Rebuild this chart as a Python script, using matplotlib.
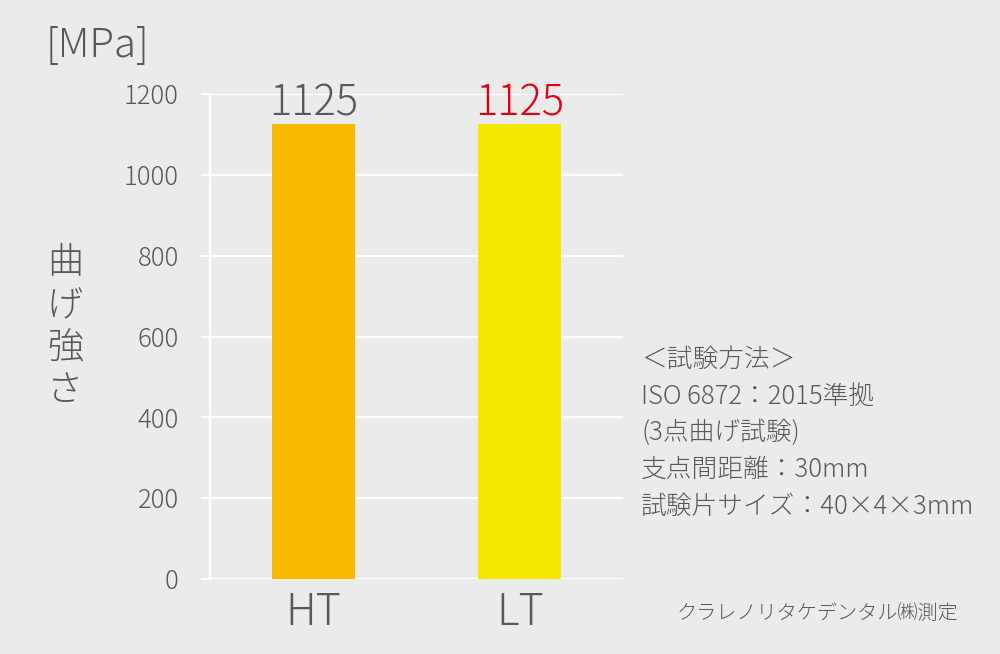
# 曲げ強さの棒グラフ (HT / LT)
import matplotlib.pyplot as plt
import numpy as np

plt.rcParams['font.family'] = ['Noto Sans CJK JP', 'DejaVu Sans']
plt.rcParams['font.weight'] = 'light'

categorias = ['HT', 'LT']
valores = [1125, 1125]
cores = ['#f8b900', '#f5e800']
cor_rotulo = ['#595959', '#e60012']
yticks = [0, 200, 400, 600, 800, 1000, 1200]
metodo = ['＜試験方法＞', 'ISO 6872：2015準拠', '(3点曲げ試験)',
          '支点間距離：30mm', '試験片サイズ：40×4×3mm']

cinza = '#595959'
fundo = '#ebebeb'

fig = plt.figure(figsize=(10, 6.54), dpi=100, facecolor=fundo)
ax = fig.add_axes([0.21, 75/654, 0.413, 485/654], facecolor=fundo)

x = np.arange(len(categorias))
ax.bar(x, valores, width=0.4, color=cores, zorder=3)
for i, v in enumerate(valores):
    ax.text(x[i], v - 2, str(v), ha='center', va='bottom', fontsize=30,
            color=cor_rotulo[i], zorder=4)

ax.set_xlim(-0.5, 1.5)
ax.set_ylim(0, 1200)
ax.set_yticks(yticks)
ax.set_yticklabels([str(t) for t in yticks], fontsize=18.5, color=cinza)
ax.set_xticks(x)
ax.set_xticklabels(categorias, fontsize=31, color=cinza)
ax.tick_params(axis='y', length=6.5, width=1.5, color='white', pad=16)
ax.tick_params(axis='x', length=0, pad=8)
ax.grid(axis='y', color='white', linewidth=1.6, zorder=1)
ax.set_axisbelow(True)
for s in ['top', 'right', 'bottom']:
    ax.spines[s].set_visible(False)
ax.spines['left'].set_color('white')
ax.spines['left'].set_linewidth(1.6)
ax.spines['left'].set_zorder(2)

fig.text(0.046, 1 - 46/654, '[MPa]', fontsize=29, color=cinza, va='center', ha='left')
fig.text(0.065, 1 - 327/654, '曲\nげ\n強\nさ', fontsize=26, color=cinza,
         va='center', ha='center', linespacing=1.14)

fig.text(0.641, 1 - 433/654, '\n'.join(metodo), fontsize=18.5, color=cinza,
         va='center', ha='left', linespacing=1.5)
fig.text(0.958, 1 - 613/654, 'クラレノリタケデンタル㈱測定', fontsize=14.5,
         color=cinza, va='center', ha='right')

plt.savefig('out.png', dpi=100, facecolor=fundo)
